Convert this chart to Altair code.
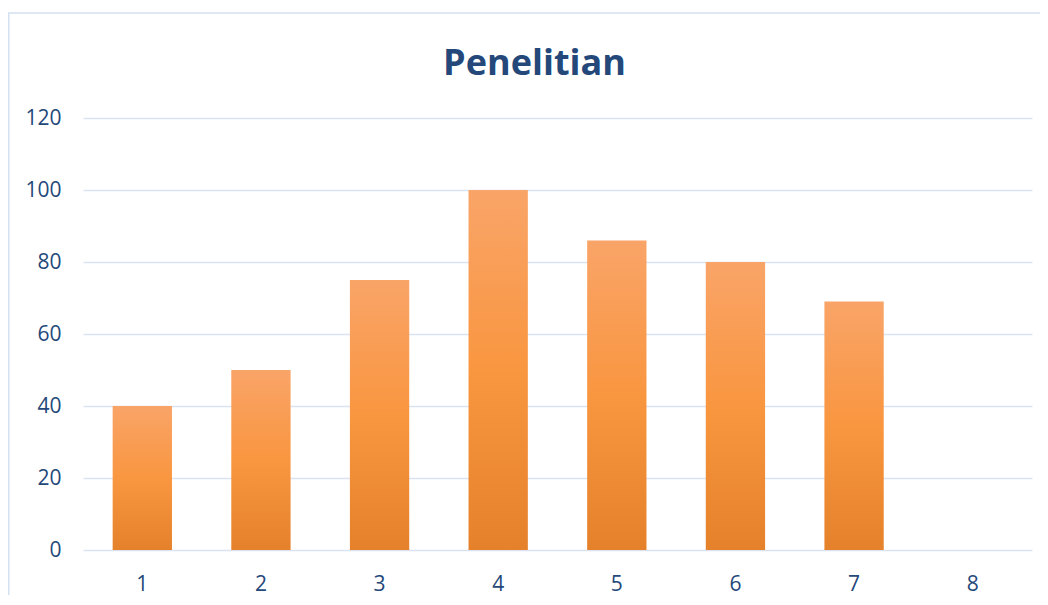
import altair as alt
import pandas as pd

categories = ["1", "2", "3", "4", "5", "6", "7", "8"]
values = [40, 50, 75, 100, 86, 80, 69, 0]

df = pd.DataFrame({"kategori": categories, "nilai": values})
frame_df = pd.DataFrame({"k": [0]})

W, H = 949, 432
TEXT = "#24487A"
GRID = "#D9E3F1"

gradient = alt.Gradient(
    gradient="linear",
    x1=0, y1=0, x2=0, y2=1,
    stops=[
        alt.GradientStop(color="#F9A468", offset=0),
        alt.GradientStop(color="#F99640", offset=0.5),
        alt.GradientStop(color="#E5812B", offset=1),
    ],
)

frame = alt.Chart(frame_df).mark_rect(
    fillOpacity=0, stroke="#D4E0F0", strokeWidth=1.5
).encode(
    x=alt.value(-74.2), x2=alt.value(1000),
    y=alt.value(-105), y2=alt.value(600),
)

bars = alt.Chart(df).mark_bar(color=gradient).encode(
    x=alt.X(
        "kategori:N",
        sort=categories,
        title=None,
        scale=alt.Scale(paddingInner=0.5, paddingOuter=0.25),
        axis=alt.Axis(
            labelAngle=0, ticks=False, domain=False, grid=False,
            labelPadding=23, labelFontSize=21, labelColor=TEXT,
            labelFont="Open Sans",
        ),
    ),
    y=alt.Y(
        "nilai:Q",
        title=None,
        scale=alt.Scale(domain=[0, 120], nice=False),
        axis=alt.Axis(
            values=[0, 20, 40, 60, 80, 100, 120], ticks=False, domain=False,
            labelPadding=22, labelFontSize=21, labelColor=TEXT,
            labelFont="Open Sans", gridColor=GRID, gridWidth=1.5,
        ),
    ),
)

chart = alt.layer(bars, frame).properties(
    width=W,
    height=H,
    title=alt.TitleParams(
        "Penelitian", fontSize=36, fontWeight="bold", color=TEXT,
        font="Open Sans", anchor="middle", frame="group", dx=-23,
        baseline="alphabetic", offset=-99,
    ),
    autosize=alt.AutoSizeParams(type="none"),
    padding={"left": 75, "top": 110, "right": 8, "bottom": 45},
).configure_view(stroke=None)

chart.save("out.html", embed_options={"renderer": "svg", "actions": False})
